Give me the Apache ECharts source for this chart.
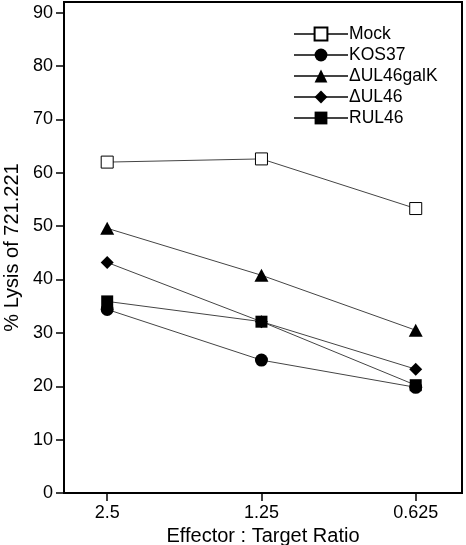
<!DOCTYPE html>
<html>
<head>
<meta charset="utf-8">
<script src="https://cdn.jsdelivr.net/npm/echarts@6/dist/echarts.min.js"></script>
<style>html,body{margin:0;padding:0;background:#fff}#c{width:466px;height:545px}</style>
</head>
<body>
<div id="c"></div>
<script>
var categories = ['2.5', '1.25', '0.625'];
var seriesNames = ['Mock', 'KOS37', '\u0394UL46galK', '\u0394UL46', 'RUL46'];
var mock = [62.0, 62.6, 53.3];
var kos37 = [34.4, 24.9, 19.8];
var dUL46galK = [49.6, 40.8, 30.5];
var dUL46 = [43.2, 32.1, 23.2];
var rul46 = [35.9, 32.1, 20.2];
var yTicks = [0, 10, 20, 30, 40, 50, 60, 70, 80, 90];

var FONT = 'Liberation Sans, Arial, Helvetica, sans-serif';
function pts(arr) { return arr.map(function (v, i) { return [i, v]; }); }
function mk(name, data, symbol, size, fill) {
  return {
    name: name, type: 'line', data: pts(data),
    symbol: symbol, symbolSize: size, showSymbol: true,
    lineStyle: { color: '#444', width: 1 },
    itemStyle: { color: fill, borderColor: '#000', borderWidth: fill === '#fff' ? 1 : 0 },
    emphasis: { disabled: true },
    animation: false
  };
}
var chart = echarts.init(document.getElementById('c'), null, { renderer: 'canvas' });
chart.setOption({
  animation: false,
  grid: { left: 64, right: 4, top: 2, bottom: 52, show: true, borderColor: '#000', borderWidth: 2,
    containLabel: false, outerBoundsMode: 'none' },
  legend: {
    orient: 'vertical', left: 293, top: 25, padding: 0,
    itemWidth: 54, itemHeight: 16, itemGap: 3,
    data: seriesNames,
    textStyle: { fontFamily: FONT, fontSize: 17.5, color: '#000', padding: [0, 0, 0, -4] }
  },
  xAxis: {
    type: 'value', min: -0.28, max: 2.3,
    name: 'Effector : Target Ratio', nameLocation: 'middle', nameGap: 30,
    nameTextStyle: { fontFamily: FONT, fontSize: 20, color: '#000' },
    axisLine: { onZero: false, lineStyle: { color: '#000', width: 2 } },
    axisTick: { show: true, length: 8, lineStyle: { color: '#000', width: 1.5 }, customValues: [0, 1, 2] },
    axisLabel: { customValues: [0, 1, 2], margin: 11, fontFamily: FONT, fontSize: 18, color: '#000',
      formatter: function (v) { return categories[Math.round(v)]; } },
    splitLine: { show: false }
  },
  yAxis: {
    type: 'value', min: 0, max: 92,
    name: '% Lysis of 721.221', nameLocation: 'middle', nameGap: 36,
    nameTextStyle: { fontFamily: FONT, fontSize: 20, color: '#000' },
    axisLine: { show: true, onZero: false, lineStyle: { color: '#000', width: 2 } },
    axisTick: { show: true, length: 8, lineStyle: { color: '#000', width: 1.5 }, customValues: yTicks },
    axisLabel: { customValues: yTicks, margin: 11, fontFamily: FONT, fontSize: 18, color: '#000' },
    splitLine: { show: false }
  },
  series: [
    mk(seriesNames[0], mock, 'rect', 12, '#fff'),
    mk(seriesNames[1], kos37, 'circle', 13, '#000'),
    mk(seriesNames[2], dUL46galK, 'triangle', [14, 13], '#000'),
    mk(seriesNames[3], dUL46, 'diamond', 13, '#000'),
    mk(seriesNames[4], rul46, 'rect', 12, '#000')
  ]
});
</script>
</body>
</html>
